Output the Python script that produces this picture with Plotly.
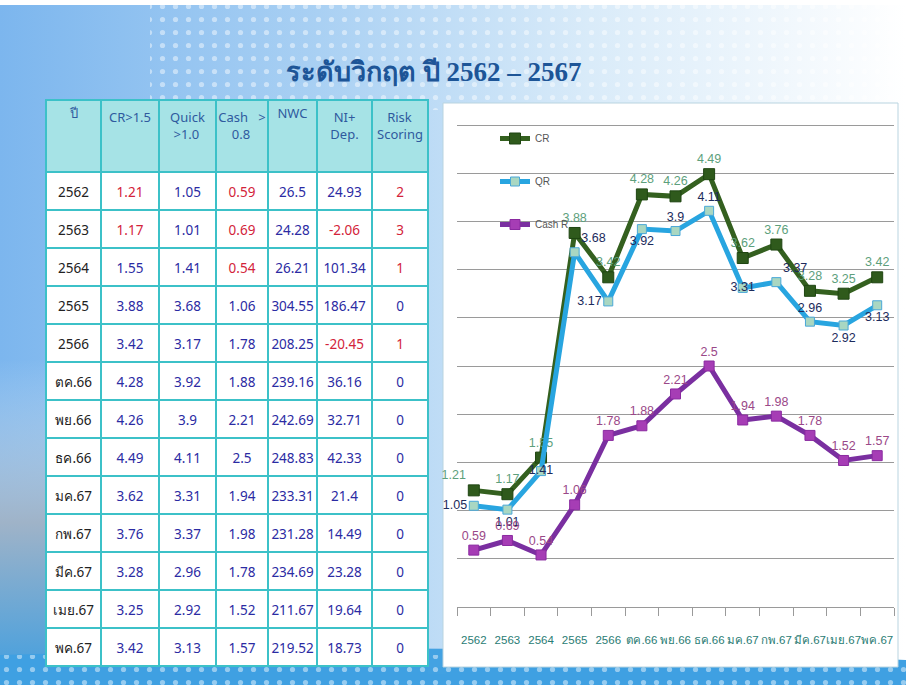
import base64
import plotly.graph_objects as go

# ---------------- data ----------------
periods = ["2562", "2563", "2564", "2565", "2566", "ตค.66", "พย.66", "ธค.66",
           "มค.67", "กพ.67", "มีค.67", "เมย.67", "พค.67"]
cr = [1.21, 1.17, 1.55, 3.88, 3.42, 4.28, 4.26, 4.49, 3.62, 3.76, 3.28, 3.25, 3.42]
qr = [1.05, 1.01, 1.41, 3.68, 3.17, 3.92, 3.9, 4.11, 3.31, 3.37, 2.96, 2.92, 3.13]
cash = [0.59, 0.69, 0.54, 1.06, 1.78, 1.88, 2.21, 2.5, 1.94, 1.98, 1.78, 1.52, 1.57]
nwc = [26.5, 24.28, 26.21, 304.55, 208.25, 239.16, 242.69, 248.83, 233.31, 231.28, 234.69, 211.67, 219.52]
ni_dep = [24.93, -2.06, 101.34, 186.47, -20.45, 36.16, 32.71, 42.33, 21.4, 14.49, 23.28, 19.64, 18.73]
risk = [2, 3, 1, 0, 1, 0, 0, 0, 0, 0, 0, 0, 0]

table_headers = ["ปี", "CR>1.5", "Quick<br>&nbsp;>1.0", "Cash &nbsp;&nbsp;><br>&nbsp;&nbsp;&nbsp;&nbsp;0.8",
                 "NWC", "&nbsp;NI+<br>Dep.", "&nbsp;&nbsp;&nbsp;Risk<br>Scoring"]
series_names = ["CR", "QR", "Cash R"]
title_text = "ระดับวิกฤต ปี 2562 – 2567"

# ---------------- styles ----------------
W, H = 906, 685
BLUE_TXT = "#2b2ba3"
RED_TXT = "#d3233a"
GRID_TEAL = "#3cc1c8"
TABLE_FONT = "Noto Sans, DejaVu Sans, sans-serif"


def fmt(v):
    return f"{v:g}"


def col_colors(vals, bad):
    return [RED_TXT if bad(v) else BLUE_TXT for v in vals]


table_values = [periods,
                [fmt(v) for v in cr],
                [fmt(v) for v in qr],
                [fmt(v) for v in cash],
                [fmt(v) for v in nwc],
                [fmt(v) for v in ni_dep],
                [str(v) for v in risk]]
table_font_colors = [["#222222"] * len(periods),
                     col_colors(cr, lambda v: v < 1.5),
                     col_colors(qr, lambda v: v < 1.0),
                     col_colors(cash, lambda v: v < 0.8),
                     col_colors(nwc, lambda v: v < 0),
                     col_colors(ni_dep, lambda v: v < 0),
                     col_colors(risk, lambda v: v > 0)]

cr_pos = ["top left"] + ["top center"] * 12
qr_pos = ["middle left", "bottom center", "middle center", "top right", "middle left",
          "bottom center", "top center", "top center", "middle center", "top right",
          "top center", "bottom center", "bottom center"]
cash_pos = ["top center"] * 13

# background svg (slide decoration)
svg = f"""<svg xmlns='http://www.w3.org/2000/svg' width='{W}' height='{H}'>
<defs>
<linearGradient id='g1' x1='0' y1='0' x2='1' y2='0'>
<stop offset='0' stop-color='#7cb6ee'/>
<stop offset='0.35' stop-color='#a9d0f3'/>
<stop offset='0.65' stop-color='#d9ebf9'/>
<stop offset='1' stop-color='#ffffff'/>
</linearGradient>
<linearGradient id='g3' x1='0' y1='0' x2='0' y2='1'>
<stop offset='0' stop-color='#cfe3f5' stop-opacity='0'/>
<stop offset='0.5' stop-color='#9fb3c8'/>
<stop offset='1' stop-color='#3f9ee0'/>
</linearGradient>
<pattern id='dots' width='13' height='13' patternUnits='userSpaceOnUse'>
<circle cx='6.5' cy='6.5' r='2.6' fill='#ffffff' fill-opacity='0.45'/>
</pattern>
</defs>
<rect width='{W}' height='{H}' fill='url(#g1)'/>
<rect x='150' y='0' width='{W-150}' height='110' fill='url(#dots)'/>
<rect x='0' y='360' width='60' height='{H-360}' fill='url(#g3)'/>
<path d='M0 655 Q 450 640 906 660 L906 685 L0 685 Z' fill='#3fa0e2'/>
<rect x='0' y='655' width='{W}' height='30' fill='url(#dots)'/>
<rect x='0' y='0' width='{W}' height='5' fill='#ffffff'/>
</svg>"""
svg_uri = "data:image/svg+xml;base64," + base64.b64encode(svg.encode("utf-8")).decode("ascii")


def px_x(p):
    return p / W


def px_y(p):
    return 1 - p / H


label_font = "Liberation Sans, Arial, sans-serif"
col_w = [55, 58, 57, 52, 49, 55, 56]
n_rows = len(periods)
Y_TOP = 5.1
PX_PER_UNIT = (607 - 125) / 5.0

fig = go.Figure()

# table grid + header text
fig.add_trace(go.Table(
    domain=dict(x=[px_x(46), px_x(428)], y=[px_y(667), px_y(100)]),
    columnwidth=col_w,
    header=dict(values=table_headers, height=72, fill_color="#a6e3e6",
                line=dict(color=GRID_TEAL, width=1.5), align="center",
                font=dict(family=TABLE_FONT, size=13, color="#2f5a9e")),
    cells=dict(values=[[""] * n_rows for _ in col_w], height=38, fill_color="#ffffff",
               line=dict(color=GRID_TEAL, width=1.5), align="center",
               font=dict(family=TABLE_FONT, size=13)),
))
# table body text (same table, shifted so text sits in the middle of each row)
fig.add_trace(go.Table(
    domain=dict(x=[px_x(46), px_x(428)], y=[px_y(674), px_y(107)]),
    columnwidth=col_w,
    header=dict(values=[""] * len(col_w), height=72, fill_color="rgba(0,0,0,0)",
                line=dict(color="rgba(0,0,0,0)", width=0)),
    cells=dict(values=table_values, height=38, fill_color="rgba(0,0,0,0)",
               line=dict(color="rgba(0,0,0,0)", width=0), align="center",
               font=dict(family=TABLE_FONT, size=13.5, color=table_font_colors)),
))

fig.add_trace(go.Scatter(
    x=periods, y=cr, name=series_names[0], mode="lines+markers+text", legendgroup="a",
    line=dict(color="#34601f", width=5),
    marker=dict(symbol="square", size=11, color="#2f5a1c", line=dict(color="#1f4512", width=1)),
    text=[fmt(v) for v in cr], textposition=cr_pos,
    textfont=dict(family=label_font, size=12.5, color="#5d9f7c"), cliponaxis=False))
fig.add_trace(go.Scatter(
    x=periods, y=qr, name=series_names[1], mode="lines+markers+text", legendgroup="b",
    line=dict(color="#28a5e0", width=5),
    marker=dict(symbol="square", size=9, color="#a9d7c2", line=dict(color="#4aa8d8", width=1)),
    text=[fmt(v) for v in qr], textposition=qr_pos,
    textfont=dict(family=label_font, size=12.5, color="#1c2b5c"), cliponaxis=False))
fig.add_trace(go.Scatter(
    x=periods, y=cash, name=series_names[2], mode="lines+markers+text", legendgroup="c",
    line=dict(color="#7a2fa0", width=5),
    marker=dict(symbol="square", size=10, color="#a63db5", line=dict(color="#8a2aa0", width=1)),
    text=[fmt(v) for v in cash], textposition=cash_pos,
    textfont=dict(family=label_font, size=12.5, color="#9a4888"), cliponaxis=False))

fig.update_layout(
    width=W, height=H, margin=dict(l=0, r=0, t=0, b=0, autoexpand=False),
    paper_bgcolor="#ffffff", plot_bgcolor="rgba(0,0,0,0)",
    images=[dict(source=svg_uri, xref="paper", yref="paper", x=0, y=1, sizex=1, sizey=1,
                 xanchor="left", yanchor="top", sizing="stretch", layer="below")],
    shapes=[dict(type="rect", xref="paper", yref="paper", x0=px_x(443), x1=px_x(898),
                 y0=px_y(667), y1=px_y(103), fillcolor="#ffffff",
                 line=dict(color="#b9d4e0", width=1), layer="below")],
    annotations=[dict(text=f"<b>{title_text}</b>", xref="paper", yref="paper",
                      x=px_x(434), y=px_y(72), xanchor="center", yanchor="middle", showarrow=False,
                      font=dict(family="Liberation Serif, Noto Serif, serif", size=27, color="#1d5597"))],
    xaxis=dict(domain=[px_x(457), px_x(894)], type="category", tickson="boundaries",
               range=[-0.5, len(periods) - 0.5], autorange=False,
               ticks="outside", ticklen=8, tickcolor="#9a9a9a", showline=True, linecolor="#9a9a9a",
               linewidth=1.3, showgrid=False, ticklabelstandoff=22, tickangle=0, automargin=False,
               tickfont=dict(family=label_font, size=11.5, color="#2a7c74")),
    yaxis=dict(domain=[px_y(607), px_y(607 - Y_TOP * PX_PER_UNIT)], range=[0, Y_TOP], dtick=0.5,
               showticklabels=False, automargin=False,
               showgrid=True, gridcolor="#9a9a9a", gridwidth=1.3, zeroline=False, showline=False),
    showlegend=True,
    legend=dict(x=px_x(495), y=px_y(124), xanchor="left", yanchor="top", bgcolor="rgba(0,0,0,0)",
                tracegroupgap=24, traceorder="grouped", itemwidth=30,
                font=dict(family=label_font, size=10, color="#555555")),
)

fig.write_html("out.html")
